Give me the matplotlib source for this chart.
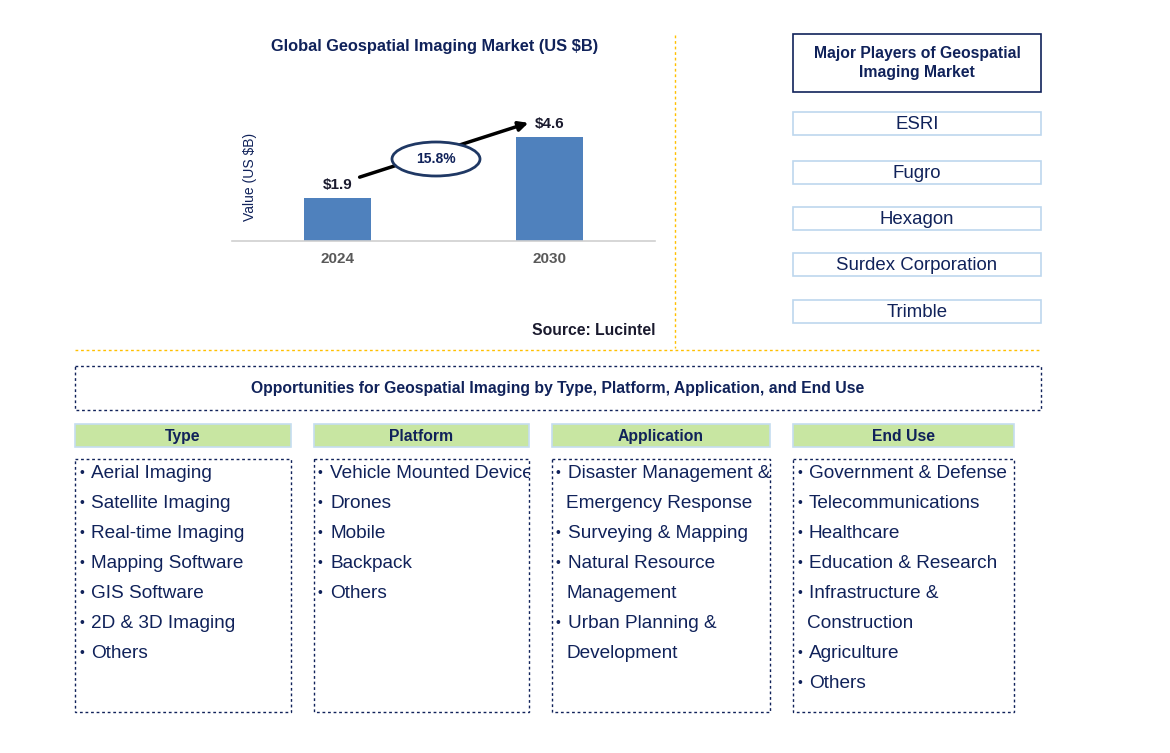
import matplotlib.pyplot as plt
from matplotlib.patches import Rectangle, Ellipse
from matplotlib.transforms import Bbox, TransformedBbox

plt.rcParams['font.family'] = ['Liberation Sans', 'DejaVu Sans']

years = ["2024", "2030"]
values = [1.9, 4.6]
value_labels = ["$1.9", "$4.6"]
cagr = "15.8%"

players = ["ESRI", "Fugro", "Hexagon", "Surdex Corporation", "Trimble"]

headers = ["Type", "Platform", "Application", "End Use"]
type_items = ["Aerial Imaging", "Satellite Imaging", "Real-time Imaging", "Mapping Software",
              "GIS Software", "2D & 3D Imaging", "Others"]
platform_items = ["Vehicle Mounted Devices", "Drones", "Mobile", "Backpack", "Others"]
application_items = ["Disaster Management &\nEmergency Response", "Surveying & Mapping",
                     "Natural Resource\nManagement", "Urban Planning &\nDevelopment"]
enduse_items = ["Government & Defense", "Telecommunications", "Healthcare", "Education & Research",
                "Infrastructure &\nConstruction", "Agriculture", "Others"]

navy = '#10225A'
W, H = 1170, 753

fig = plt.figure(figsize=(W / 100, H / 100), dpi=100)
bg = fig.add_axes([0, 0, 1, 1])
bg.set_xlim(0, W)
bg.set_ylim(H, 0)
bg.axis('off')

# ---- bar chart ----
ax = fig.add_axes([232 / W, 1 - 241 / H, (655 - 232) / W, 141 / H])
ax.bar(range(len(values)), values, width=0.317, color='#4F81BD', zorder=2)
ax.set_xlim(-0.5, 1.5)
ax.set_ylim(0, 141 / 22.6)
for s in ['top', 'right', 'left']:
    ax.spines[s].set_visible(False)
ax.spines['bottom'].set_color('#D0D0D0')
ax.spines['bottom'].set_linewidth(1.2)
ax.set_yticks([])
ax.set_xticks(range(len(years)))
ax.set_xticklabels(years, fontsize=11, fontweight='bold', color='#595959')
ax.tick_params(axis='x', length=0, pad=8)
ax.patch.set_alpha(0)
for i, v in enumerate(values):
    ax.text(i, v + 0.25, value_labels[i], ha='center', va='bottom', fontsize=11,
            fontweight='bold', color='#1a1a2e')

bg.text(435, 46, "Global Geospatial Imaging Market (US $B)", ha='center', va='center',
        fontsize=11.8, fontweight='bold', color=navy)
bg.text(250, 177, "Value (US $B)", rotation=90, ha='center', va='center',
        fontsize=10, color=navy)
bg.annotate("", xy=(531, 122), xytext=(357, 178),
            arrowprops=dict(arrowstyle='-|>', color='black', lw=2.5, mutation_scale=14))
bg.add_patch(Ellipse((436, 159), 88, 34, facecolor='white', edgecolor='#1F3864', lw=2, zorder=5))
bg.text(436, 159, cagr, ha='center', va='center', fontsize=10, fontweight='bold',
        color=navy, zorder=6)
bg.text(656, 330, "Source: Lucintel", ha='right', va='center', fontsize=11.3,
        fontweight='bold', color='#1a1a2e')

# separators
bg.plot([675, 675], [35, 348], color='#FFC000', lw=1, ls=(0, (2, 2)))
bg.plot([75, 1041], [350, 350], color='#FFC000', lw=1, ls=(0, (2, 2)))

# ---- major players ----
bg.add_patch(Rectangle((793, 34), 248, 58, facecolor='white', edgecolor=navy, lw=1.2))
bg.text(917, 63, "Major Players of Geospatial\nImaging Market", ha='center', va='center',
        fontsize=11.3, fontweight='bold', color=navy, linespacing=1.35)
player_tops = [112, 161, 207, 253, 300]
for name, top in zip(players, player_tops):
    bg.add_patch(Rectangle((793, top), 248, 23, facecolor='white', edgecolor='#BDD7EE', lw=1.2))
    bg.text(917, top + 12, name, ha='center', va='center', fontsize=13.4, color=navy)

# ---- opportunities ----
bg.add_patch(Rectangle((75, 366), 966, 44, facecolor='none', edgecolor=navy, lw=1,
                       ls=(0, (2, 2))))
bg.text(558, 388, "Opportunities for Geospatial Imaging by Type, Platform, Application, and End Use",
        ha='center', va='center', fontsize=11.35, fontweight='bold', color=navy)

columns = [(75, 291, type_items), (314, 529, platform_items),
           (552, 770, application_items), (793, 1014, enduse_items)]
for (x0, x1, items), head in zip(columns, headers):
    bg.add_patch(Rectangle((x0, 424), x1 - x0, 23, facecolor='#C8E6A2', edgecolor='#C5DDF0', lw=1.2))
    bg.text((x0 + x1) / 2, 436, head, ha='center', va='center', fontsize=11.3,
            fontweight='bold', color=navy)
    box = Rectangle((x0, 459), x1 - x0, 253, facecolor='none', edgecolor=navy, lw=1,
                    ls=(0, (2, 2)))
    bg.add_patch(box)
    clip = TransformedBbox(Bbox.from_extents(x0, 459, x1, 712), bg.transData)
    y = 473
    for item in items:
        for j, line in enumerate(item.split("\n")):
            if j == 0:
                bg.text(x0 + 4, y, "•", ha='left', va='center', fontsize=10, color=navy)
                t = bg.text(x0 + 16, y, line, ha='left', va='center', fontsize=13.7, color=navy)
            else:
                t = bg.text(x0 + 14, y, line, ha='left', va='center', fontsize=13.7, color=navy)
            t.set_clip_box(clip)
            t.set_clip_on(True)
            y += 30

fig.savefig("out.png", dpi=100)
